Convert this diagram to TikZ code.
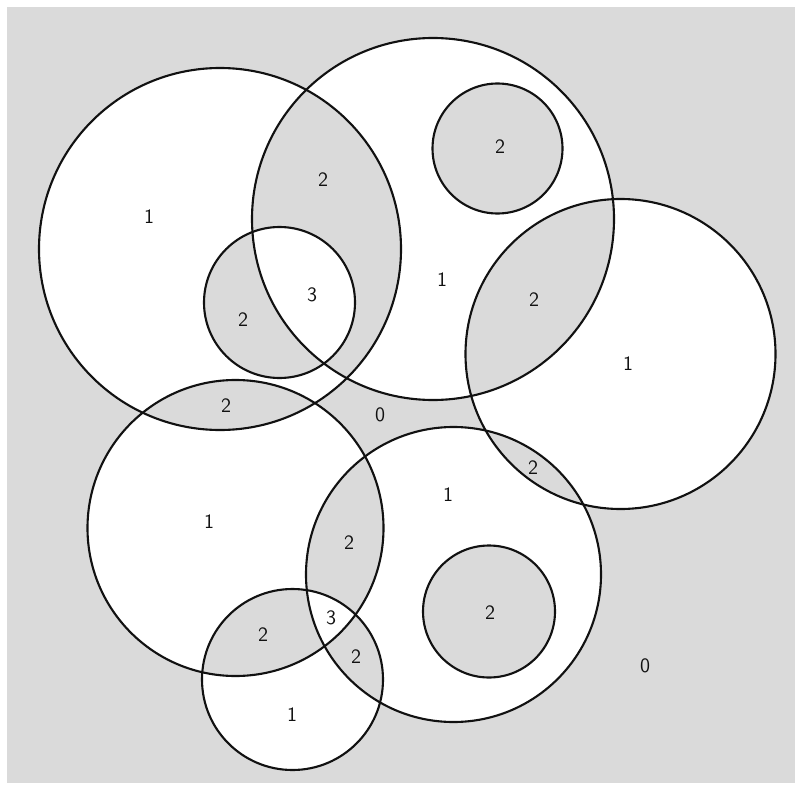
\documentclass[tikz,border=0pt]{standalone}
\usepackage{xcolor}
\usepackage{tikz}
\definecolor{ScanGrey}{HTML}{DADADA}
\definecolor{RingLine}{HTML}{111111}

\begin{document}
\begin{tikzpicture}[x=0.025cm,y=-0.025cm,
  ring/.style={draw=RingLine,line width=1.5pt},
  cnt/.style={font=\sffamily\fontsize{14.5}{17}\selectfont,text=RingLine,inner sep=0pt}]
\path[use as bounding box] (0,0) rectangle (795,794);
\fill[ScanGrey] (7,7) rectangle (795,783);
% odd counts come out white
\fill[white,even odd rule] (220,249) circle (181) (433,219) circle (181)
  (497.5,148.5) circle (65) (620.5,354) circle (155) (279.5,302.5) circle (75.5)
  (235.5,528) circle (148) (453.5,574.5) circle (147.5) (489,611.5) circle (66)
  (292.5,679.5) circle (90.5);
\draw[ring] (220,249) circle (181);
\draw[ring] (433,219) circle (181);
\draw[ring] (497.5,148.5) circle (65);
\draw[ring] (620.5,354) circle (155);
\draw[ring] (279.5,302.5) circle (75.5);
\draw[ring] (235.5,528) circle (148);
\draw[ring] (453.5,574.5) circle (147.5);
\draw[ring] (489,611.5) circle (66);
\draw[ring] (292.5,679.5) circle (90.5);
% region counts
\node[cnt] (nA) at (149,217) {1};
\node[cnt] (nAB) at (323,180) {2};
\node[cnt] (nABE) at (312,295) {3};
\node[cnt] (nAE) at (243,320) {2};
\node[cnt] (nBC) at (500,147) {2};
\node[cnt] (nB) at (442,280) {1};
\node[cnt] (nBD) at (534,300) {2};
\node[cnt] (nD) at (628,364) {1};
\node[cnt] (nAF) at (226,406) {2};
\node[cnt] (nOutA) at (380,415) {0};
\node[cnt] (nDG) at (533,468) {2};
\node[cnt] (nG) at (448,495) {1};
\node[cnt] (nF) at (209,522) {1};
\node[cnt] (nFG) at (349,543) {2};
\node[cnt] (nFGI) at (331,618) {3};
\node[cnt] (nFI) at (263,635) {2};
\node[cnt] (nGH) at (490,613) {2};
\node[cnt] (nGI) at (356,657) {2};
\node[cnt] (nOutB) at (645,666) {0};
\node[cnt] (nI) at (292,715) {1};
\end{tikzpicture}
\end{document}
